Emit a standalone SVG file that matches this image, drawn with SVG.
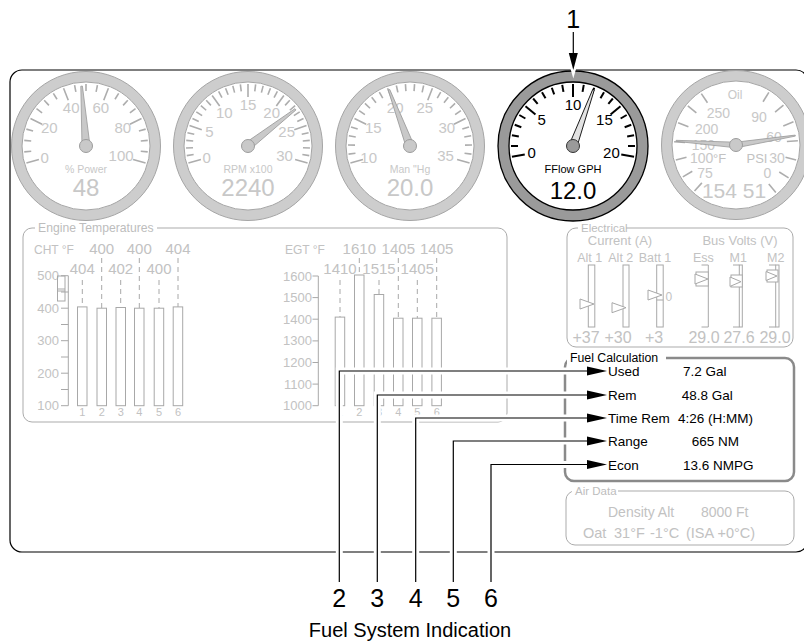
<svg xmlns="http://www.w3.org/2000/svg" xmlns:xlink="http://www.w3.org/1999/xlink" width="804" height="643" viewBox="0 0 804 643">
<style>
text{font-family:"Liberation Sans",Arial,Helvetica,sans-serif}
.ring{fill:#cdcdcd;stroke:#a5a5a5;stroke-width:1}
.face{fill:#fff;stroke:#a5a5a5;stroke-width:1}
.tk{stroke:#adadad;stroke-width:1.6}
.gl{fill:#c8c8c8;font-size:15px;text-anchor:middle}
.gu{fill:#c8c8c8;font-size:10.5px;text-anchor:middle}
.gv{fill:#c8c8c8;font-size:24px;text-anchor:middle}
.ndl{fill:#c9c9c9;stroke:#9c9c9c;stroke-width:0.8}
.hub{fill:#c9c9c9;stroke:#9c9c9c;stroke-width:1}
.ring4{fill:#9a9a9a;stroke:#000;stroke-width:1.3}
.face4{fill:#fff;stroke:#000;stroke-width:1.3}
.tk4{stroke:#000;stroke-width:2}
.gl4{fill:#000;font-size:15px;text-anchor:middle}
.ndl4{fill:#e2e2e2;stroke:#000;stroke-width:0.8}
.hub4{fill:#9a9a9a;stroke:#333;stroke-width:1}
.pnl{fill:none;stroke:#ababab;stroke-width:1}
.tbg{fill:#fff}
.ttl{fill:#bdbdbd;font-size:11.5px}
.gt{fill:#c2c2c2}
.bar{fill:#fff;stroke:#a8a8a8;stroke-width:1}
.dash{stroke:#a8a8a8;stroke-width:1;stroke-dasharray:5 4}
.ax{stroke:#a8a8a8;stroke-width:1;fill:none}
.halo{fill:none;stroke:#fff;stroke-width:7}
.ld{fill:none;stroke:#000;stroke-width:1.2}
.ah{fill:#000}
.num{font-size:25px;fill:#000;text-anchor:middle}
.fc{font-size:13.5px;fill:#000}
</style>
<defs>
<line id="tM" x1="49" y1="0" x2="62" y2="0"/>
<line id="tm" x1="55" y1="0" x2="62" y2="0"/>
<line id="t5" x1="51" y1="0" x2="62" y2="0"/>
<polygon id="nd" points="0,-4 60,-0.8 60,0.8 0,4"/>
<polygon id="nd5" points="0,-2.8 60,-0.5 60,0.5 0,2.8"/>
</defs>

<rect id="frame" x="10" y="70" width="798" height="482" rx="12" fill="none" stroke="#000" stroke-width="1.2"/>

<g id="gauge-power" transform="translate(86,146)">
<circle class="ring" r="74.5"/>
<circle class="face" r="64"/>
<g class="tk">
<use href="#tM" transform="rotate(-196)"/><use href="#tm" transform="rotate(-185.4)"/><use href="#tm" transform="rotate(-174.8)"/><use href="#tm" transform="rotate(-164.2)"/>
<use href="#tM" transform="rotate(-153.6)"/><use href="#tm" transform="rotate(-143)"/><use href="#tm" transform="rotate(-132.4)"/><use href="#tm" transform="rotate(-121.8)"/>
<use href="#tM" transform="rotate(-111.2)"/><use href="#tm" transform="rotate(-100.6)"/><use href="#tm" transform="rotate(-90)"/><use href="#tm" transform="rotate(-79.4)"/>
<use href="#tM" transform="rotate(-68.8)"/><use href="#tm" transform="rotate(-58.2)"/><use href="#tm" transform="rotate(-47.6)"/><use href="#tm" transform="rotate(-37)"/>
<use href="#tM" transform="rotate(-26.4)"/><use href="#tm" transform="rotate(-15.8)"/><use href="#tm" transform="rotate(-5.2)"/><use href="#tm" transform="rotate(5.4)"/>
<use href="#tM" transform="rotate(16)"/>
</g>
<g class="gl">
<text transform="rotate(-196) translate(43) rotate(196)" y="5">0</text>
<text transform="rotate(-153.6) translate(41) rotate(153.6)" y="5">20</text>
<text transform="rotate(-111.2) translate(41) rotate(111.2)" y="5">40</text>
<text transform="rotate(-68.8) translate(41) rotate(68.8)" y="5">60</text>
<text transform="rotate(-26.4) translate(41) rotate(26.4)" y="5">80</text>
<text transform="rotate(16) translate(36.5) rotate(-16)" y="5">100</text>
</g>
<text class="gu" y="27">% Power</text>
<text class="gv" y="50">48</text>
<use href="#nd" class="ndl" transform="rotate(-94.2)"/>
<circle class="hub" r="6.5"/>
</g>

<g id="gauge-rpm" transform="translate(248,146)">
<circle class="ring" r="74.5"/>
<circle class="face" r="64"/>
<g class="tk">
<use href="#tM" transform="rotate(-196)"/><use href="#tm" transform="rotate(-188.93)"/><use href="#tm" transform="rotate(-181.87)"/><use href="#tm" transform="rotate(-174.8)"/><use href="#tm" transform="rotate(-167.73)"/>
<use href="#tM" transform="rotate(-160.67)"/><use href="#tm" transform="rotate(-153.6)"/><use href="#tm" transform="rotate(-146.53)"/><use href="#tm" transform="rotate(-139.47)"/><use href="#tm" transform="rotate(-132.4)"/>
<use href="#tM" transform="rotate(-125.33)"/><use href="#tm" transform="rotate(-118.27)"/><use href="#tm" transform="rotate(-111.2)"/><use href="#tm" transform="rotate(-104.13)"/><use href="#tm" transform="rotate(-97.07)"/>
<use href="#tM" transform="rotate(-90)"/><use href="#tm" transform="rotate(-82.93)"/><use href="#tm" transform="rotate(-75.87)"/><use href="#tm" transform="rotate(-68.8)"/><use href="#tm" transform="rotate(-61.73)"/>
<use href="#tM" transform="rotate(-54.67)"/><use href="#tm" transform="rotate(-47.6)"/><use href="#tm" transform="rotate(-40.53)"/><use href="#tm" transform="rotate(-33.47)"/><use href="#tm" transform="rotate(-26.4)"/>
<use href="#tM" transform="rotate(-19.33)"/><use href="#tm" transform="rotate(-12.27)"/><use href="#tm" transform="rotate(-5.2)"/><use href="#tm" transform="rotate(1.87)"/><use href="#tm" transform="rotate(8.93)"/>
<use href="#tM" transform="rotate(16)"/>
</g>
<g class="gl">
<text transform="rotate(-196) translate(43) rotate(196)" y="5">0</text>
<text transform="rotate(-160.67) translate(41) rotate(160.67)" y="5">5</text>
<text transform="rotate(-125.33) translate(41) rotate(125.33)" y="5">10</text>
<text transform="rotate(-90) translate(41) rotate(90)" y="5">15</text>
<text transform="rotate(-54.67) translate(41) rotate(54.67)" y="5">20</text>
<text transform="rotate(-19.33) translate(41) rotate(19.33)" y="5">25</text>
<text transform="rotate(16) translate(38) rotate(-16)" y="5">30</text>
</g>
<text class="gu" y="27">RPM x100</text>
<text class="gv" y="50">2240</text>
<use href="#nd" class="ndl" transform="rotate(-37.7)"/>
<circle class="hub" r="6.5"/>
</g>

<g id="gauge-manifold" transform="translate(410,146)">
<circle class="ring" r="74.5"/>
<circle class="face" r="64"/>
<g class="tk">
<use href="#tM" transform="rotate(-196)"/><use href="#tm" transform="rotate(-187.52)"/><use href="#tm" transform="rotate(-179.04)"/><use href="#tm" transform="rotate(-170.56)"/><use href="#tm" transform="rotate(-162.08)"/>
<use href="#tM" transform="rotate(-153.6)"/><use href="#tm" transform="rotate(-145.12)"/><use href="#tm" transform="rotate(-136.64)"/><use href="#tm" transform="rotate(-128.16)"/><use href="#tm" transform="rotate(-119.68)"/>
<use href="#tM" transform="rotate(-111.2)"/><use href="#tm" transform="rotate(-102.72)"/><use href="#tm" transform="rotate(-94.24)"/><use href="#tm" transform="rotate(-85.76)"/><use href="#tm" transform="rotate(-77.28)"/>
<use href="#tM" transform="rotate(-68.8)"/><use href="#tm" transform="rotate(-60.32)"/><use href="#tm" transform="rotate(-51.84)"/><use href="#tm" transform="rotate(-43.36)"/><use href="#tm" transform="rotate(-34.88)"/>
<use href="#tM" transform="rotate(-26.4)"/><use href="#tm" transform="rotate(-17.92)"/><use href="#tm" transform="rotate(-9.44)"/><use href="#tm" transform="rotate(-0.96)"/><use href="#tm" transform="rotate(7.52)"/>
<use href="#tM" transform="rotate(16)"/>
</g>
<g class="gl">
<text transform="rotate(-196) translate(43) rotate(196)" y="5">10</text>
<text transform="rotate(-153.6) translate(41) rotate(153.6)" y="5">15</text>
<text transform="rotate(-111.2) translate(41) rotate(111.2)" y="5">20</text>
<text transform="rotate(-68.8) translate(41) rotate(68.8)" y="5">25</text>
<text transform="rotate(-26.4) translate(41) rotate(26.4)" y="5">30</text>
<text transform="rotate(16) translate(37) rotate(-16)" y="5">35</text>
</g>
<text class="gu" y="27">Man "Hg</text>
<text class="gv" y="50">20.0</text>
<use href="#nd" class="ndl" transform="rotate(-110.5)"/>
<circle class="hub" r="6.5"/>
</g>

<g id="gauge-fuelflow" transform="translate(573,146)">
<circle class="ring4" r="75"/>
<circle class="face4" r="64"/>
<g class="tk4">
<use href="#tM" transform="rotate(-190)"/><use href="#tm" transform="rotate(-180)"/><use href="#tm" transform="rotate(-170)"/><use href="#tm" transform="rotate(-160)"/><use href="#tm" transform="rotate(-150)"/>
<use href="#tM" transform="rotate(-140)"/><use href="#tm" transform="rotate(-130)"/><use href="#tm" transform="rotate(-120)"/><use href="#tm" transform="rotate(-110)"/><use href="#tm" transform="rotate(-100)"/>
<use href="#tM" transform="rotate(-90)"/><use href="#tm" transform="rotate(-80)"/><use href="#tm" transform="rotate(-70)"/><use href="#tm" transform="rotate(-60)"/><use href="#tm" transform="rotate(-50)"/>
<use href="#tM" transform="rotate(-40)"/><use href="#tm" transform="rotate(-30)"/><use href="#tm" transform="rotate(-20)"/><use href="#tm" transform="rotate(-10)"/><use href="#tm" transform="rotate(0)"/>
<use href="#tM" transform="rotate(10)"/>
</g>
<g class="gl4">
<text transform="rotate(-190) translate(42) rotate(190)" y="5">0</text>
<text transform="rotate(-140) translate(41) rotate(140)" y="5">5</text>
<text transform="rotate(-90) translate(41) rotate(90)" y="5">10</text>
<text transform="rotate(-40) translate(41) rotate(40)" y="5">15</text>
<text transform="rotate(10) translate(39) rotate(-10)" y="5">20</text>
</g>
<text y="27" style="font-size:11px;fill:#000;text-anchor:middle">FFlow GPH</text>
<text y="53" style="font-size:24px;fill:#000;text-anchor:middle">12.0</text>
<use href="#nd" class="ndl4" transform="rotate(-70)"/>
<circle class="hub4" r="6.5"/>
</g>

<g id="gauge-oil" transform="translate(736,145)">
<circle class="ring" r="74.5"/>
<circle class="face" r="64"/>
<g class="tk">
<use href="#t5" transform="rotate(-124)"/><use href="#t5" transform="rotate(-141)"/><use href="#t5" transform="rotate(-159)"/><use href="#t5" transform="rotate(-177)"/><use href="#t5" transform="rotate(-194)"/><use href="#t5" transform="rotate(-211)"/><use href="#t5" transform="rotate(-228)"/>
<use href="#t5" transform="rotate(-58)"/><use href="#t5" transform="rotate(-40)"/><use href="#t5" transform="rotate(-22)"/><use href="#t5" transform="rotate(-4)"/><use href="#t5" transform="rotate(14)"/><use href="#t5" transform="rotate(32)"/><use href="#t5" transform="rotate(50)"/>
</g>
<g class="gl" style="font-size:14px">
<text x="-17.7" y="-27">250</text>
<text x="-29.3" y="-11.5">200</text>
<text x="-32.7" y="4.5">150</text>
<text x="-34.3" y="18.3">100</text>
<text x="-31" y="33.3">75</text>
<text x="23" y="-23.3">90</text>
<text x="38" y="-3.3">60</text>
<text x="41" y="18.3">30</text>
<text x="31.5" y="33.3">0</text>
</g>
<text x="-23" y="18.3" class="gt" style="font-size:13px">°F</text>
<text x="21" y="18.3" class="gt" style="font-size:13px;text-anchor:middle">PSI</text>
<text x="-1" y="-46" class="gu" style="font-size:12px">Oil</text>
<text x="-2" y="53.3" class="gv" style="font-size:21px">154 51</text>
<use href="#nd5" class="ndl" transform="rotate(-176)"/>
<use href="#nd5" class="ndl" transform="rotate(-9)"/>
<circle class="hub" r="6.5"/>
</g>

<g id="engine-temperatures">
<rect class="pnl" x="23" y="228" width="484" height="194" rx="9"/>
<rect class="tbg" x="35" y="222" width="122" height="12"/>
<text class="ttl" x="38" y="232" style="font-size:12.2px">Engine Temperatures</text>
<g class="gt">
<text x="34" y="254" style="font-size:12px">CHT °F</text>
<text x="285" y="254" style="font-size:12px">EGT °F</text>
</g>
<g class="gt" style="font-size:15px;text-anchor:middle">
<text x="101.7" y="254">400</text><text x="139.3" y="254">400</text><text x="178" y="254">404</text>
<text x="82.3" y="274">404</text><text x="120.7" y="274">402</text><text x="159" y="274">400</text>
<text x="359.3" y="254">1610</text><text x="398.3" y="254">1405</text><text x="436.7" y="254">1405</text>
<text x="340" y="274">1410</text><text x="379" y="274">1515</text><text x="417.3" y="274">1405</text>
</g>
<g class="gt" style="font-size:13px;text-anchor:end">
<text x="59" y="280">500</text><text x="59" y="312.7">400</text><text x="59" y="345.2">300</text><text x="59" y="377.7">200</text><text x="59" y="410.2">100</text>
<text x="312" y="280.5">1600</text><text x="312" y="302.1">1500</text><text x="312" y="323.7">1400</text><text x="312" y="345.4">1300</text><text x="312" y="367">1200</text><text x="312" y="388.6">1100</text><text x="312" y="410.2">1000</text>
</g>
<g class="gt" style="font-size:11px;text-anchor:middle">
<text x="82.3" y="416">1</text><text x="101.7" y="416">2</text><text x="120.7" y="416">3</text><text x="139.3" y="416">4</text><text x="159" y="416">5</text><text x="178" y="416">6</text>
<text x="340" y="416">1</text><text x="359.3" y="416">2</text><text x="379" y="416">3</text><text x="398.3" y="416">4</text><text x="417.3" y="416">5</text><text x="436.7" y="416">6</text>
</g>
<path class="ax" d="M68.3,275.7V405.7 M61,275.7H68.3 M61,292H68.3 M61,308.2H68.3 M61,324.5H68.3 M61,340.7H68.3 M61,357H68.3 M61,373.2H68.3 M61,389.5H68.3 M61,405.7H68.3"/>
<rect class="bar" x="57.5" y="276" width="7.5" height="25" style="fill:none"/>
<path class="ax" d="M57.5,289H65 M57.5,291H65"/>
<path class="ax" d="M318.3,276V405.7 M312.5,276H318.3 M312.5,297.6H318.3 M312.5,319.2H318.3 M312.5,340.9H318.3 M312.5,362.5H318.3 M312.5,384.1H318.3 M312.5,405.7H318.3"/>
<rect class="bar" x="77.5" y="306.9" width="9.5" height="98.8"/>
<rect class="bar" x="97" y="308.2" width="9.5" height="97.5"/>
<rect class="bar" x="116" y="307.5" width="9.5" height="98.2"/>
<rect class="bar" x="134.5" y="308.2" width="9.5" height="97.5"/>
<rect class="bar" x="154.2" y="308.2" width="9.5" height="97.5"/>
<rect class="bar" x="173.2" y="306.9" width="9.5" height="98.8"/>
<rect class="bar" x="335.2" y="317.1" width="9.5" height="88.6"/>
<rect class="bar" x="354.5" y="275" width="9.5" height="130.7"/>
<rect class="bar" x="374.2" y="294.5" width="9.5" height="111.2"/>
<rect class="bar" x="393.5" y="318.2" width="9.5" height="87.5"/>
<rect class="bar" x="412.5" y="318.2" width="9.5" height="87.5"/>
<rect class="bar" x="431.9" y="318.2" width="9.5" height="87.5"/>
<path class="dash" d="M82.3,280V306.9 M101.7,258V308.2 M120.7,280V307.5 M139.3,258V308.2 M159,280V308.2 M178,258V306.9 M340,280V317.1 M359.3,258V275 M379,280V294.5 M398.3,258V318.2 M417.3,280V318.2 M436.7,258V318.2"/>
</g>

<g id="electrical">
<rect class="pnl" x="567" y="228" width="226" height="119" rx="9"/>
<rect class="tbg" x="578" y="222" width="48" height="12"/>
<text class="ttl" x="581" y="232">Electrical</text>
<g class="gt" style="font-size:13px;text-anchor:middle">
<text x="620" y="245">Current (A)</text><text x="740" y="245">Bus Volts (V)</text>
</g>
<g class="gt" style="font-size:12.5px;text-anchor:middle">
<text x="589.7" y="262">Alt 1</text><text x="620.8" y="262">Alt 2</text><text x="655" y="262">Batt 1</text><text x="703.3" y="262">Ess</text><text x="738.3" y="262">M1</text><text x="775.8" y="262">M2</text>
</g>
<g class="gt" style="font-size:16px;text-anchor:middle">
<text x="586" y="343">+37</text><text x="618" y="343">+30</text><text x="654" y="343">+3</text><text x="704" y="343">29.0</text><text x="739" y="343">27.6</text><text x="775" y="343">29.0</text>
</g>
<rect class="bar" x="588.3" y="265" width="6.5" height="62"/>
<polygon class="bar" points="580,299 594,304 580,309"/>
<rect class="bar" x="623" y="265" width="6" height="62"/>
<polygon class="bar" points="612,302.7 626,307.7 612,312.7"/>
<rect class="bar" x="656.7" y="265" width="6.5" height="62"/>
<path class="ax" d="M656.7,300H663.2"/>
<polygon class="bar" points="648,290 662,295 648,300"/>
<text class="gt" x="665.5" y="300.5" style="font-size:12px">0</text>
<path class="ax" d="M708.3,265V327 M701.5,265H708.3 M701.5,327H708.3"/>
<rect class="bar" x="696" y="272" width="12.3" height="14"/>
<polygon class="bar" points="695,274 708,279 695,284"/>
<rect class="bar" x="739.3" y="265" width="3" height="62"/>
<path class="ax" d="M733,265H739.3 M733,327H739.3"/>
<rect class="bar" x="731" y="275" width="11.3" height="12"/>
<polygon class="bar" points="730,277 741,281.7 730,286.4"/>
<rect class="bar" x="775.7" y="265" width="3.3" height="62"/>
<path class="ax" d="M769,265H775.7 M769,327H775.7"/>
<rect class="bar" x="767" y="270" width="11" height="12"/>
<polygon class="bar" points="766,271.5 777,276 766,280.5"/>
</g>

<g id="fuel-calculation">
<rect x="565" y="358" width="229" height="123" rx="9" fill="none" stroke="#8a8a8a" stroke-width="2.5"/>
<rect class="tbg" x="567" y="352" width="99" height="12"/>
<text x="570" y="362" style="font-size:12.3px;fill:#000">Fuel Calculation</text>
<g class="fc">
<text x="608" y="376">Used</text><text x="683" y="376">7.2 Gal</text>
<text x="608" y="400">Rem</text><text x="681.7" y="400">48.8 Gal</text>
<text x="608" y="423">Time Rem</text><text x="678" y="423">4:26 (H:MM)</text>
<text x="608" y="446">Range</text><text x="691.7" y="446">665 NM</text>
<text x="608" y="469.5">Econ</text><text x="683" y="469.5">13.6 NMPG</text>
</g>
</g>

<g id="air-data">
<rect class="pnl" x="566" y="491" width="228" height="54" rx="9"/>
<rect class="tbg" x="572" y="485" width="46" height="12"/>
<text class="ttl" x="575" y="495">Air Data</text>
<g class="gt" style="font-size:14px">
<text x="608" y="517">Density Alt</text><text x="701" y="517">8000 Ft</text>
</g>
<g class="gt" style="font-size:14.5px">
<text x="583" y="538">Oat</text><text x="614" y="538">31°F</text><text x="650" y="538">-1°C</text><text x="686" y="538">(ISA +0°C)</text>
</g>
</g>

<g id="connectors">
<polygon points="567,51 579.6,51 573.3,73" fill="#fff" stroke="#fff" stroke-width="3"/>
<line class="halo" x1="573.3" y1="32" x2="573.3" y2="53"/>
<line class="ld" x1="573.3" y1="32" x2="573.3" y2="54"/>
<polygon class="ah" points="568.8,53 577.8,53 573.3,70"/>
<polyline class="halo" points="339.3,582 339.3,371 587,371"/>
<polyline class="halo" points="377.3,582 377.3,395 587,395"/>
<polyline class="halo" points="415.7,582 415.7,418 587,418"/>
<polyline class="halo" points="453.3,582 453.3,441 587,441"/>
<polyline class="halo" points="491,582 491,464.5 587,464.5"/>
<polyline class="ld" points="339.3,582 339.3,371 588,371"/>
<polyline class="ld" points="377.3,582 377.3,395 588,395"/>
<polyline class="ld" points="415.7,582 415.7,418 588,418"/>
<polyline class="ld" points="453.3,582 453.3,441 588,441"/>
<polyline class="ld" points="491,582 491,464.5 588,464.5"/>
<polygon class="ah" points="587,366.5 607,371 587,375.5"/>
<polygon class="ah" points="587,390.5 607,395 587,399.5"/>
<polygon class="ah" points="587,413.5 607,418 587,422.5"/>
<polygon class="ah" points="587,436.5 607,441 587,445.5"/>
<polygon class="ah" points="587,460 607,464.5 587,469"/>
</g>

<g id="callouts">
<text class="num" x="573.3" y="28">1</text>
<text class="num" x="339.3" y="607">2</text>
<text class="num" x="377.3" y="607">3</text>
<text class="num" x="415.7" y="607">4</text>
<text class="num" x="453.3" y="607">5</text>
<text class="num" x="491" y="607">6</text>
<text x="410" y="637" style="font-size:20px;fill:#000;text-anchor:middle">Fuel System Indication</text>
</g>
</svg>
